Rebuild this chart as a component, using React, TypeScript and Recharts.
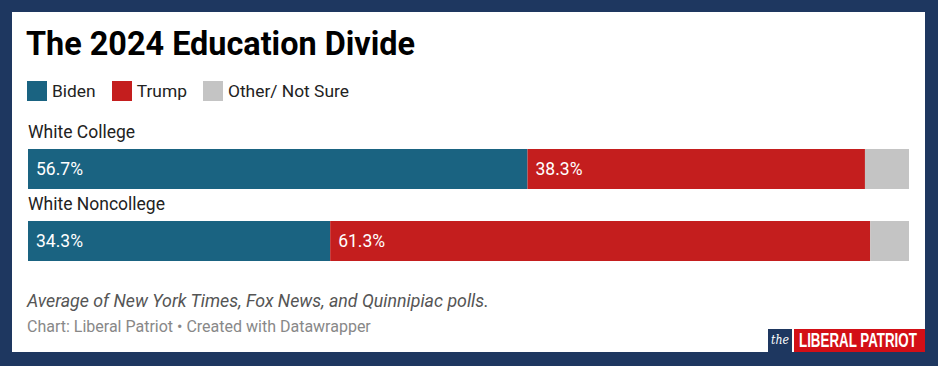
import { BarChart, Bar, XAxis, YAxis, LabelList } from "recharts";

const groups = ["White College", "White Noncollege"];
const biden = [56.7, 34.3];
const trump = [38.3, 61.3];
const other = [5.0, 4.4];

const colors = { biden: "#1a6381", trump: "#c41e1e", other: "#c4c4c4" };
const font = "Roboto, 'Noto Sans', sans-serif";

const data = groups.map((group, i) => ({
  group,
  biden: biden[i],
  trump: trump[i],
  other: other[i],
}));

const legendItems = [
  { key: "biden", label: "Biden" },
  { key: "trump", label: "Trump" },
  { key: "other", label: "Other/ Not Sure" },
];

const ValueLabel = (props: any) => {
  const { x, y, height, value } = props;
  return (
    <text
      x={x + 8}
      y={y + height / 2 + 6}
      fill="#fff"
      fontSize={17.5}
      fontFamily={font}
    >
      {value}%
    </text>
  );
};

const GroupLabel = (props: any) => {
  const { x, y, value } = props;
  return (
    <text x={x} y={y - 11} fill="#222" fontSize={17.5} fontFamily={font}>
      {value}
    </text>
  );
};

const App = () => {
  return (
    <div
      style={{
        position: "relative",
        width: 938,
        height: 366,
        background: "#1e3760",
        fontFamily: font,
        overflow: "hidden",
      }}
    >
      <style>{`body{margin:0}`}</style>
      <div
        style={{
          position: "absolute",
          left: 12,
          top: 12,
          width: 913,
          height: 340,
          background: "#fff",
        }}
      />
      <div
        style={{
          position: "absolute",
          left: 26,
          top: 24,
          fontSize: 32.4,
          fontWeight: 700,
          color: "#000",
          lineHeight: "40px",
          whiteSpace: "nowrap",
        }}
      >
        The 2024 Education Divide
      </div>
      <div
        style={{
          position: "absolute",
          left: 27,
          top: 81,
          display: "flex",
          alignItems: "center",
          fontSize: 17.4,
          color: "#222",
        }}
      >
        {legendItems.map((item) => (
          <div
            key={item.key}
            style={{ display: "flex", alignItems: "center", marginRight: 16 }}
          >
            <span
              style={{
                width: 20,
                height: 20,
                background: (colors as any)[item.key],
                marginRight: 5,
                display: "inline-block",
              }}
            />
            <span style={{ lineHeight: "20px" }}>{item.label}</span>
          </div>
        ))}
      </div>

      <div style={{ position: "absolute", left: 0, top: 0 }}>
        <BarChart
          width={938}
          height={366}
          data={data}
          layout="vertical"
          margin={{ top: 133, bottom: 89, left: 28, right: 29 }}
        >
          <XAxis type="number" domain={[0, 100]} hide />
          <YAxis type="category" dataKey="group" hide />
          <Bar
            dataKey="biden"
            stackId="a"
            fill={colors.biden}
            barSize={40}
            isAnimationActive={false}
          >
            <LabelList dataKey="biden" content={<ValueLabel />} />
            <LabelList dataKey="group" content={<GroupLabel />} />
          </Bar>
          <Bar
            dataKey="trump"
            stackId="a"
            fill={colors.trump}
            barSize={40}
            isAnimationActive={false}
          >
            <LabelList dataKey="trump" content={<ValueLabel />} />
          </Bar>
          <Bar
            dataKey="other"
            stackId="a"
            fill={colors.other}
            barSize={40}
            isAnimationActive={false}
          />
        </BarChart>
      </div>

      <div
        style={{
          position: "absolute",
          left: 27,
          top: 290,
          fontSize: 17.8,
          fontStyle: "italic",
          color: "#555",
          whiteSpace: "nowrap",
        }}
      >
        Average of New York Times, Fox News, and Quinnipiac polls.
      </div>
      <div
        style={{
          position: "absolute",
          left: 27,
          top: 317,
          fontSize: 16,
          color: "#888",
          whiteSpace: "nowrap",
        }}
      >
        Chart: Liberal Patriot • Created with Datawrapper
      </div>

      {/* logo */}
      <div
        style={{
          position: "absolute",
          left: 768,
          top: 329,
          width: 24,
          height: 23,
          background: "#1e3760",
          overflow: "hidden",
        }}
      >
        <span
          style={{
            position: "absolute",
            left: 3,
            top: 0,
            color: "#fff",
            fontFamily: "'DejaVu Serif', serif",
            fontStyle: "italic",
            fontSize: 13,
            lineHeight: "22px",
            whiteSpace: "nowrap",
            transform: "scaleX(0.85)",
            transformOrigin: "left center",
          }}
        >
          the
        </span>
      </div>
      <div
        style={{
          position: "absolute",
          left: 794,
          top: 329,
          width: 131,
          height: 23,
          background: "#d30f16",
          overflow: "hidden",
        }}
      >
        <span
          style={{
            position: "absolute",
            left: 5,
            top: 0,
            color: "#fff",
            fontFamily: "'Liberation Sans', sans-serif",
            fontWeight: 700,
            fontSize: 20,
            lineHeight: "23px",
            whiteSpace: "nowrap",
            transform: "scaleX(0.667)",
            transformOrigin: "left center",
          }}
        >
          LIBERAL PATRIOT
        </span>
      </div>
    </div>
  );
};

export default App;
